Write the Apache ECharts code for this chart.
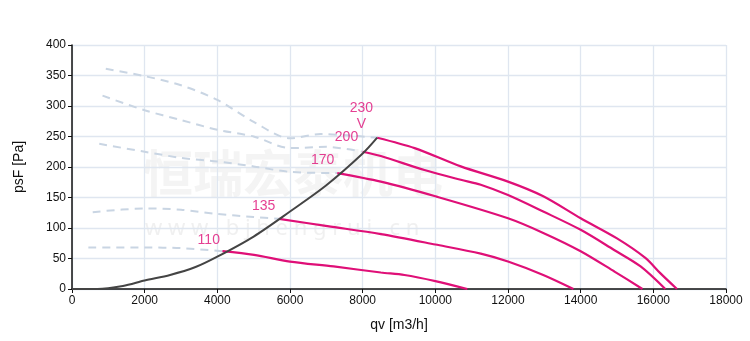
<!DOCTYPE html>
<html><head><meta charset="utf-8">
<script src="https://cdn.jsdelivr.net/npm/echarts@6/dist/echarts.min.js"></script>
<style>html,body{margin:0;padding:0;background:#fff}#c{width:750px;height:341px}</style>
</head><body><div id="c"></div>
<script>
// System (operating) curve
const systemCurve = [[0,0],[700,0],[1400,5],[2000,14],[2700,23],[3400,36],[4000,53],[5000,86],[6000,127],[7000,170],[8000,222],[8400,248]];
// Fan curves (solid, right of system curve)
const v230 = [[8400,248],[9430,231],[10700,201],[12000,176],[12970,152],[14000,116],[15000,83],[15780,51],[16190,26],[16650,0]];
const v200 = [[8000,225],[8500,218],[9700,195],[10700,179],[11250,171],[12000,154],[12970,127],[14000,97],[14920,64],[15650,37],[16330,0]];
const v170 = [[7300,190],[8500,176],[10000,152],[12000,116],[12970,92],[14000,62],[14920,29],[15700,0]];
const v135 = [[5700,115],[7030,103],[8500,90],[10000,73],[11250,58],[12000,45],[12970,23],[13800,0]];
const v110 = [[4140,62],[5010,56],[6000,45],[7200,37],[8500,27],[9150,23],[10000,13],[10880,0]];
// Dashed continuations (left of system curve)
const d230 = [[930,361],[2000,349],[3000,334],[4000,310],[5000,274],[6000,247],[6840,254],[7570,252],[8400,248]];
const d200 = [[840,317],[2000,293],[3000,277],[4000,261],[5000,250],[6000,231],[7000,233],[8000,225]];
const d170 = [[750,238],[2000,225],[3000,215],[4000,209],[5000,201],[6000,192],[7300,190]];
const d135 = [[570,126],[2000,132],[3000,130],[4000,123],[5000,118],[5700,115]];
const d110 = [[450,68],[2000,68],[3000,67],[4140,62]];
// Voltage labels
const labels = [["230\nV",7967,283],["200",7555,249],["170",6896,211],["135",5275,136],["110",3764,80]];
const xTicks = {min:0,max:18000,interval:2000};
const yTicks = {min:0,max:400,interval:50};

const MAG = '#df0f77', DASH = '#c9d5e3', FONT = 'Liberation Sans';
const solid = d => ({type:'line',data:d,showSymbol:false,smooth:0.3,lineStyle:{color:MAG,width:2.2},z:5});
const dashed = d => ({type:'line',data:d,showSymbol:false,smooth:0.3,lineStyle:{color:DASH,width:2,type:[8,6]},z:3});

const chart = echarts.init(document.getElementById('c'));
chart.setOption({
  animation:false,
  grid:{left:72,right:24,top:45,bottom:52},
  graphic:[
    {type:'text',left:143,top:148,z:0,style:{text:'恒瑞宏泰机电',font:'bold 50px "Noto Sans CJK SC"',fill:'rgba(205,205,205,0.22)'}},
    {type:'text',left:145,top:218,z:0,style:{text:'w w w . b j h e n g r u i . c n',font:'22px "Noto Sans"',fill:'rgba(205,205,205,0.3)'}}
  ],
  xAxis:{type:'value',min:xTicks.min,max:xTicks.max,interval:xTicks.interval,
    name:'qv [m3/h]',nameLocation:'middle',nameGap:29,nameTextStyle:{color:'#111',fontSize:14,fontFamily:FONT},
    axisLine:{show:true,onZero:false,lineStyle:{color:'#111',width:1.5}},axisTick:{show:true,length:4,lineStyle:{color:'#111'}},
    axisLabel:{color:'#111',fontSize:12,fontFamily:FONT,margin:6,formatter:v=>String(v)},
    splitLine:{show:true,lineStyle:{color:'#dfe6f0',width:1.3}}},
  yAxis:{type:'value',min:yTicks.min,max:yTicks.max,interval:yTicks.interval,
    name:'psF [Pa]',nameLocation:'middle',nameGap:46,nameRotate:90,nameTextStyle:{color:'#111',fontSize:14,fontFamily:FONT},
    axisLine:{show:true,onZero:false,lineStyle:{color:'#111',width:1.5}},axisTick:{show:true,length:4,lineStyle:{color:'#111'}},
    axisLabel:{color:'#111',fontSize:12,fontFamily:FONT,margin:6,formatter:v=>String(v)},
    splitLine:{show:true,lineStyle:{color:'#dfe6f0',width:1.3}}},
  series:[
    dashed(d230),dashed(d200),dashed(d170),dashed(d135),dashed(d110),
    {type:'line',data:systemCurve,showSymbol:false,smooth:0.3,lineStyle:{color:'#444',width:2},z:6},
    solid(v230),solid(v200),solid(v170),solid(v135),solid(v110),
    {type:'scatter',symbolSize:0,z:7,data:labels.map(l=>({value:[l[1],l[2]],name:l[0]})),
     label:{show:true,position:'inside',formatter:p=>p.name,color:MAG,fontSize:14,lineHeight:16,fontFamily:FONT}}
  ]
});
</script></body></html>
